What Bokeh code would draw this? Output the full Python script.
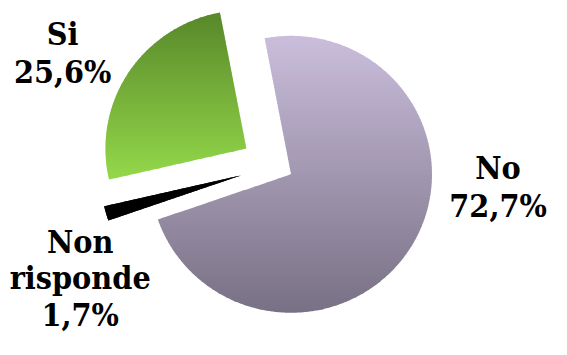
import math
from bokeh.plotting import figure
from bokeh.models import Range1d
from bokeh.core.properties import value
from bokeh.embed import file_html
from bokeh.resources import INLINE

# ---- data ----
categories = ["No", "Non risponde", "Si"]          # clockwise order
percent = [72.7, 1.7, 25.6]
label_lines = [["No", "72,7%"], ["Non", "risponde", "1,7%"], ["Si", "25,6%"]]

# ---- style / layout (reference pixel space 567 x 355) ----
W, H = 551, 339
REF_W, REF_H = 567, 355
CX, CY, R = 299.0, 182.0, 145.0
START_DEG = 100.8
offsets = {"No": (0, 0), "Non risponde": (-51, 1), "Si": (-46, -27)}
grad = {
    "No": ((202, 190, 220), (120, 112, 132)),
    "Non risponde": ((0, 0, 0), (0, 0, 0)),
    "Si": ((88, 136, 42), (148, 216, 74)),
}
TEXT_SHIFT = -10
label_pos = {"No": (512, 185), "Non risponde": (82, 263), "Si": (64, 45)}
line_h = {"No": 40, "Non risponde": 38, "Si": 40}
FONT = "DejaVu Serif Condensed"
FONT_SIZE = "32px"

p = figure(width=W, height=H, output_backend="svg", toolbar_location=None,
           x_range=Range1d(0, REF_W), y_range=Range1d(REF_H, 0),
           min_border=0, outline_line_color=None)
p.axis.visible = False
p.grid.visible = False
p.background_fill_color = "white"


def clip(poly, yv, keep_above):
    out = []
    n = len(poly)
    for i in range(n):
        a = poly[i]
        b = poly[(i + 1) % n]
        ina = (a[1] >= yv) if keep_above else (a[1] <= yv)
        inb = (b[1] >= yv) if keep_above else (b[1] <= yv)
        if ina:
            out.append(a)
        if ina != inb:
            t = (yv - a[1]) / (b[1] - a[1])
            out.append((a[0] + t * (b[0] - a[0]), yv))
    return out


total = sum(percent)
ang = START_DEG
for cat, val in zip(categories, percent):
    sweep = 360.0 * val / total
    a0, a1 = ang, ang - sweep
    ang = a1
    dx, dy = offsets[cat]
    cx, cy = CX + dx, CY + dy
    n = max(8, int(sweep * 2))
    pts = [(cx, cy)]
    for k in range(n + 1):
        t = math.radians(a0 + (a1 - a0) * k / n)
        pts.append((cx + R * math.cos(t), cy - R * math.sin(t)))
    ys = [q[1] for q in pts]
    ymin, ymax = min(ys), max(ys)
    c_top, c_bot = grad[cat]
    nstrips = 70
    xs_list, ys_list, cols = [], [], []
    for s in range(nstrips):
        y0 = ymin + (ymax - ymin) * s / nstrips
        y1 = ymin + (ymax - ymin) * (s + 1) / nstrips + 0.8
        sub = clip(pts, y0, True)
        if len(sub) < 3:
            continue
        sub = clip(sub, y1, False)
        if len(sub) < 3:
            continue
        f = (s + 0.5) / nstrips
        col = tuple(int(round(c_top[i] + (c_bot[i] - c_top[i]) * f)) for i in range(3))
        xs_list.append([q[0] for q in sub])
        ys_list.append([q[1] for q in sub])
        cols.append("#%02x%02x%02x" % col)
    p.patches(xs_list, ys_list, fill_color=cols, line_color=None)

    lx, ly = label_pos[cat]
    lines = label_lines[categories.index(cat)]
    p.text(x=[lx] * len(lines),
           y=[ly + TEXT_SHIFT + line_h[cat] * i for i in range(len(lines))],
           text=lines, text_font=value(FONT), text_font_style="bold",
           text_font_size=FONT_SIZE, text_align="center", text_baseline="alphabetic",
           text_color="black")

open("out.html", "w").write(file_html(p, INLINE))
